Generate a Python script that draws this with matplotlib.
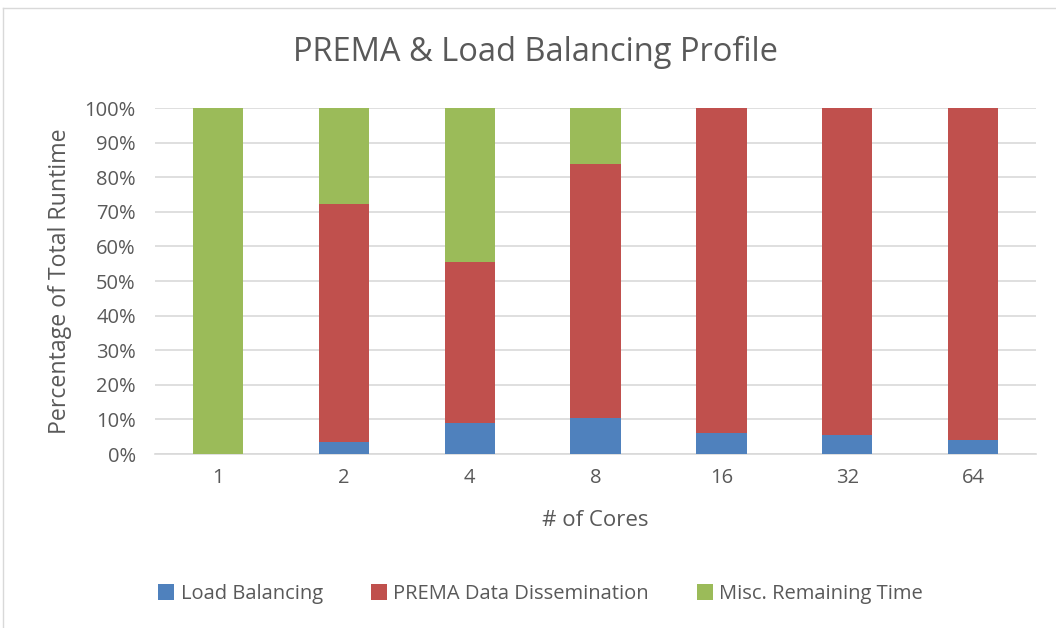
import matplotlib
matplotlib.use("Agg")
import matplotlib.pyplot as plt
import numpy as np

# data (percent of total runtime)
cores = ["1", "2", "4", "8", "16", "32", "64"]
load_balancing = [0.0, 3.5, 9.0, 10.4, 6.1, 5.5, 4.1]
prema_dissemination = [0.0, 68.9, 46.5, 73.5, 93.9, 94.5, 95.9]
misc_remaining = [100.0, 27.6, 44.5, 16.1, 0.0, 0.0, 0.0]

plt.rcParams['font.family'] = ['Open Sans', 'DejaVu Sans']
text_col = '#595959'

fig = plt.figure(figsize=(10.56, 6.28), dpi=100)
ax = fig.add_axes([0.147, 0.277, 0.834, 0.551])

x = np.arange(len(cores))
w = 0.4
ax.bar(x, load_balancing, w, color='#4F81BD', label='Load Balancing', zorder=3)
ax.bar(x, prema_dissemination, w, bottom=load_balancing, color='#C0504D',
       label='PREMA Data Dissemination', zorder=3)
bottom2 = np.array(load_balancing) + np.array(prema_dissemination)
ax.bar(x, misc_remaining, w, bottom=bottom2, color='#9BBB59',
       label='Misc. Remaining Time', zorder=3)

ax.set_xlim(-0.5, len(cores) - 0.5)
ax.set_ylim(0, 100)
ax.set_yticks(np.arange(0, 101, 10))
ax.set_yticklabels([f"{v}%" for v in range(0, 101, 10)])
ax.set_xticks(x)
ax.set_xticklabels(cores)
ax.tick_params(axis='both', length=0, labelsize=14.5, colors=text_col)
ax.tick_params(axis='y', pad=14)
ax.tick_params(axis='x', pad=10)
ax.yaxis.grid(True, color='#D9D9D9', linewidth=1.2, zorder=0)
for s in ['top', 'right', 'left']:
    ax.spines[s].set_visible(False)
ax.spines['bottom'].set_color('#D9D9D9')
ax.spines['bottom'].set_linewidth(1.2)

ax.set_xlabel("# of Cores", fontsize=16, color=text_col, labelpad=16)
ax.set_ylabel("Percentage of Total Runtime", fontsize=16.7, color=text_col, labelpad=9)
fig.text(0.507, 0.917, "PREMA & Load Balancing Profile", ha='center', va='center',
         fontsize=23.5, color=text_col)

fig.legend(loc='center', bbox_to_anchor=(0.512, 0.054), ncol=3, frameon=False,
           fontsize=14.5, handlelength=0.8, handleheight=0.8, columnspacing=2.4,
           handletextpad=0.3, labelcolor=text_col)

# light chart border (top and left visible in the reference)
fig.add_artist(plt.Line2D([0.003, 1.0], [0.987, 0.987], color='#D9D9D9', linewidth=1))
fig.add_artist(plt.Line2D([0.003, 0.003], [0.0, 0.987], color='#D9D9D9', linewidth=1))

fig.savefig("out.png", dpi=100)
